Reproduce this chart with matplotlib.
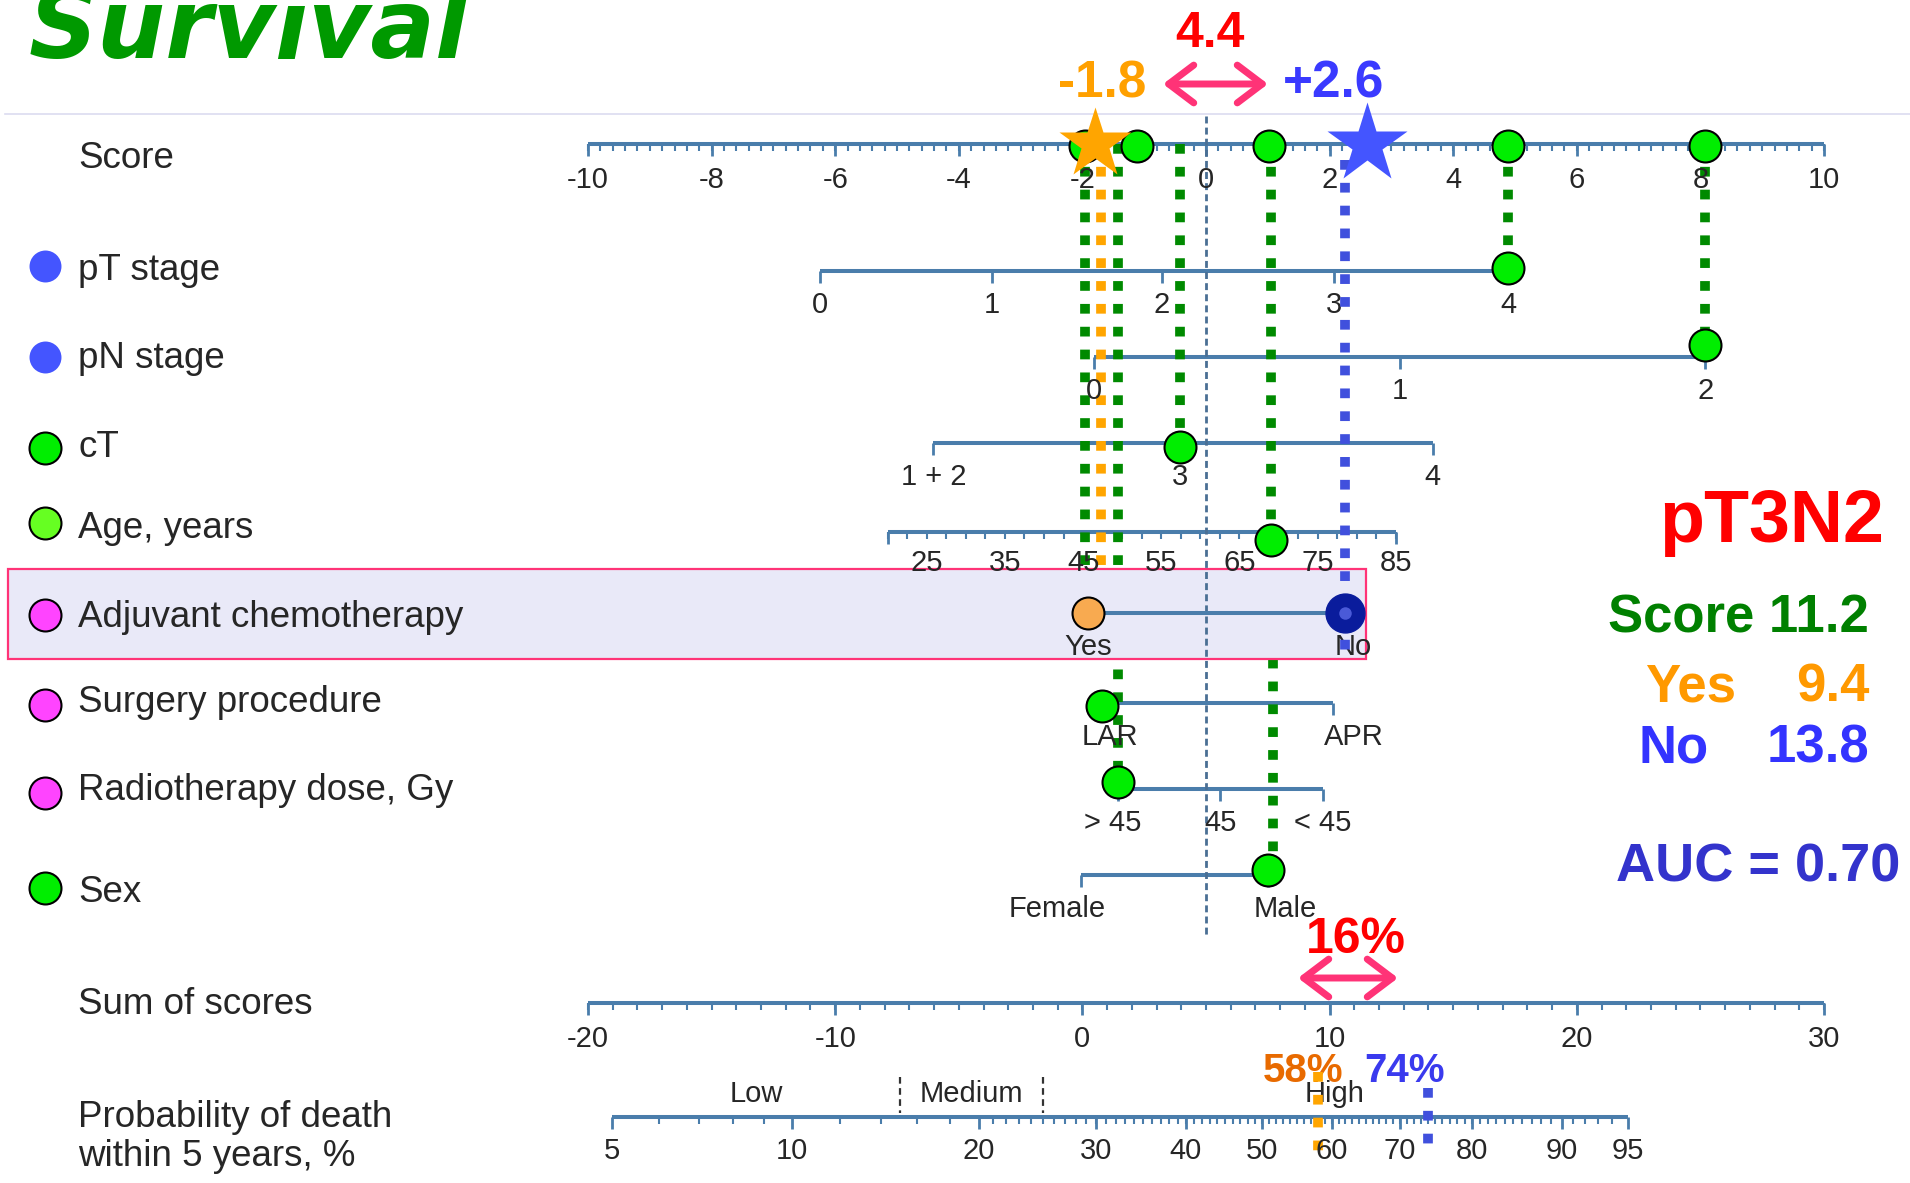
import numpy as np
import matplotlib
matplotlib.use("Agg")
import matplotlib.pyplot as plt
from matplotlib.patches import Rectangle
from matplotlib.transforms import offset_copy

# ---------------- nomogram scales (points per predictor level) ----------------
score_range = [-10, 10]
score_labels = [-10, -8, -6, -4, -2, 0, 2, 4, 6, 8, 10]

pt_levels = ["0", "1", "2", "3", "4"]
pt_points = [-6.24, -3.47, -0.71, 2.07, 4.89]
pn_levels = ["0", "1", "2"]
pn_points = [-1.81, 3.14, 8.08]
ct_levels = ["1 + 2", "3", "4"]
ct_points = [-4.41, -0.42, 3.67]
age_range = [20, 85]
age_points = [-5.15, 3.07]
age_labels = [25, 35, 45, 55, 65, 75, 85]
chemo_levels = ["Yes", "No"]
chemo_points = [-1.91, 2.25]
surgery_levels = ["LAR", "APR"]
surgery_points = [-1.68, 2.05]
radio_levels = ["> 45", "45", "< 45"]
radio_points = [-1.42, 0.23, 1.89]
sex_levels = ["Female", "Male"]
sex_points = [-2.02, 1.00]

sum_range = [-20, 30]
sum_labels = [-20, -10, 0, 10, 20, 30]
prob_labels = [5, 10, 20, 30, 40, 50, 60, 70, 80, 90, 95]
risk_cuts = [15, 25]
risk_groups = ["Low", "Medium", "High"]

# ---------------- patient profile (pT3N2) ----------------
patient_pt = "4"
patient_pn = "2"
patient_ct = "3"
patient_age = 69
patient_surgery = "LAR"
patient_radio = "> 45"
patient_sex = "Male"
score_marks = [-1.95, -1.12, 1.02, 4.89, 8.08]
chemo_yes_effect = -1.8
chemo_no_effect = 2.6
score_total = 11.2
total_yes = 9.4
total_no = 13.8
prob_yes = 58
prob_no = 74
auc = 0.70

# survival model link: sum of scores -> probability of death (complementary log-log)
S_MID, S_SLOPE = 10.97, 10.10


def prob_to_sum(p):
    p = np.asarray(p, dtype=float) / 100.0
    return S_MID + S_SLOPE * np.log(-np.log(1.0 - p))


# ---------------- figure / layout ----------------
plt.rcParams["font.family"] = ["Liberation Sans", "DejaVu Sans"]
W, H, DPI = 1910, 1183, 100
X0, PXU = 1206.0, 61.8          # pixel column of score 0, pixels per score point

fig = plt.figure(figsize=(W / DPI, H / DPI), dpi=DPI)
ax = fig.add_axes([0, 0, 1, 1])
ax.set_xlim(-X0 / PXU, (W - X0) / PXU)
ax.set_ylim(H, 0)
ax.axis("off")


def to_sum(s):
    return sum_range[0] + (s - score_range[0]) * (sum_range[1] - sum_range[0]) / (score_range[1] - score_range[0])


ax_sum = fig.add_axes([0, 0, 1, 1])
ax_sum.set_xlim(to_sum(ax.get_xlim()[0]), to_sum(ax.get_xlim()[1]))
ax_sum.set_ylim(H, 0)
ax_sum.axis("off")
ax_sum.patch.set_visible(False)


def px(x):
    return (x - X0) / PXU


AX_C = "#4a7dab"
TXT_C = "#262626"
GREEN_DOT = "#00ee00"
GUIDE_G = "#008a00"
GUIDE_O = "#ffa500"
GUIDE_B = "#4050dd"
TICK_FS = 21
LABEL_FS = 26.5

ROW_Y = {"score": 144, "pT": 271, "pN": 357, "cT": 443, "age": 532, "chemo": 613,
         "surgery": 703, "radio": 789, "sex": 875, "sum": 1003, "prob": 1117}
LABEL_DY = 34


def axis_row(a, y, lo, hi, major=(), minor=(), labels=(), nudges=None, z=3, dy=LABEL_DY):
    a.plot([lo, hi], [y, y], color=AX_C, lw=2.9, solid_capstyle="butt", zorder=z)
    if len(minor):
        a.vlines(minor, y, y + 7, color=AX_C, lw=1.5, zorder=z)
    if len(major):
        a.vlines(major, y, y + 12, color=AX_C, lw=2.0, zorder=z)
    nudges = nudges or {}
    for x, t in labels:
        tr = offset_copy(a.transData, fig=fig, x=nudges.get(t, 0), y=0, units="dots")
        a.text(x, y + dy, t, fontsize=TICK_FS, color=TXT_C, ha="center",
               va="center", transform=tr, zorder=6.2)


# title and separator
ax.text(px(29), 58, "Survival", fontsize=69, fontweight="bold", fontstyle="italic",
        color="#009900", family="DejaVu Sans", ha="left", va="baseline")
ax.plot([px(5), px(W)], [114, 114], color="#dcdcf0", lw=1.2, zorder=1)

# left-hand row labels with colour keys
row_labels = [("Score", 168, None, None),
              ("pT stage", 280, 266, ("#4455ff", "none")),
              ("pN stage", 368, 357, ("#4455ff", "none")),
              ("cT", 457, 448, (GREEN_DOT, "black")),
              ("Age, years", 538, 523, ("#66ff22", "black")),
              ("Adjuvant chemotherapy", 627, 615, ("#ff44ff", "black")),
              ("Surgery procedure", 712, 705, ("#ff44ff", "black")),
              ("Radiotherapy dose, Gy", 800, 793, ("#ff44ff", "black")),
              ("Sex", 902, 888, (GREEN_DOT, "black")),
              ("Sum of scores", 1014, None, None),
              ("Probability of death", 1127, None, None),
              ("within 5 years, %", 1166, None, None)]

# highlighted chemotherapy row
ax.add_patch(Rectangle((px(8), 569), px(1366) - px(8), 90, facecolor="#e9e9f8",
                       edgecolor="#ff3377", lw=1.6, zorder=5))

for text, yb, yd, dot in row_labels:
    ax.text(px(78), yb, text, fontsize=LABEL_FS, color=TXT_C, ha="left", va="baseline", zorder=6)
    if dot is not None:
        ax.plot(px(45), yd, "o", ms=23, mfc=dot[0], mec=dot[1], mew=1.5, zorder=6)

# score axis
score_minor = np.arange(score_range[0], score_range[1] + 0.001, 0.2)
axis_row(ax, ROW_Y["score"], score_range[0], score_range[1], major=score_labels,
         minor=score_minor, labels=[(v, f"{v}") for v in score_labels], dy=36)

# predictor axes
axis_row(ax, ROW_Y["pT"], pt_points[0], pt_points[-1], major=pt_points,
         labels=list(zip(pt_points, pt_levels)))
axis_row(ax, ROW_Y["pN"], pn_points[0], pn_points[-1], major=pn_points,
         labels=list(zip(pn_points, pn_levels)))
axis_row(ax, ROW_Y["cT"], ct_points[0], ct_points[-1], major=ct_points,
         labels=list(zip(ct_points, ct_levels)))
age_ticks = np.arange(age_range[0], age_range[1] + 0.01, 2.5)
age_x = np.interp(age_ticks, age_range, age_points)
age_lab_x = np.interp(age_labels, age_range, age_points)
axis_row(ax, ROW_Y["age"], age_points[0], age_points[-1], major=[age_points[0], age_points[-1]],
         minor=age_x, labels=[(x, str(v)) for x, v in zip(age_lab_x, age_labels)], dy=31)
axis_row(ax, ROW_Y["chemo"], chemo_points[0], chemo_points[-1],
         labels=list(zip(chemo_points, chemo_levels)), nudges={"No": 8}, z=6)
axis_row(ax, ROW_Y["surgery"], surgery_points[0], surgery_points[-1], major=surgery_points,
         labels=list(zip(surgery_points, surgery_levels)), nudges={"LAR": 8, "APR": 21})
axis_row(ax, ROW_Y["radio"], radio_points[0], radio_points[-1], major=radio_points,
         labels=list(zip(radio_points, radio_levels)), nudges={"> 45": -6})
axis_row(ax, ROW_Y["sex"], sex_points[0], sex_points[-1], major=sex_points,
         labels=list(zip(sex_points, sex_levels)), nudges={"Female": -24, "Male": 17})

# reference line at zero points
ax.plot([0, 0], [116, 938], color="#4a6f94", lw=2, ls=(0, (2.5, 1.5)), zorder=5.5)

# sum of scores and probability axes
sum_minor = np.arange(sum_range[0], sum_range[1] + 0.01, 1)
axis_row(ax_sum, ROW_Y["sum"], sum_range[0], sum_range[1], major=sum_labels,
         minor=sum_minor, labels=[(v, f"{v}") for v in sum_labels], dy=36)
prob_minor = list(range(6, 10)) + list(range(12, 20, 2)) + list(range(21, 90)) + list(range(91, 95))
axis_row(ax_sum, ROW_Y["prob"], prob_to_sum(prob_labels[0]), prob_to_sum(prob_labels[-1]),
         major=prob_to_sum(prob_labels), minor=prob_to_sum(prob_minor),
         labels=[(prob_to_sum(v), str(v)) for v in prob_labels])

cut_x = prob_to_sum(risk_cuts)
ax_sum.vlines(cut_x, 1077, 1113, color="#333333", lw=1.6, ls=(0, (3, 2)), zorder=4)
bounds = np.concatenate([[prob_to_sum(prob_labels[0])], cut_x, [prob_to_sum(prob_labels[-1])]])
for i, g in enumerate(risk_groups):
    ax_sum.text((bounds[i] + bounds[i + 1]) / 2, 1102, g, fontsize=TICK_FS, color=TXT_C,
                ha="center", va="baseline", zorder=4)

# ---------------- patient guide lines ----------------
DOT_LS = (0, (1, 1.35))
age_score = float(np.interp(patient_age, age_range, age_points))
pt_score = pt_points[pt_levels.index(patient_pt)]
pn_score = pn_points[pn_levels.index(patient_pn)]
ct_score = ct_points[ct_levels.index(patient_ct)]
surg_score = surgery_points[surgery_levels.index(patient_surgery)]
radio_score = radio_points[radio_levels.index(patient_radio)]
sex_score = sex_points[sex_levels.index(patient_sex)]

guides = [(score_marks[0], ROW_Y["score"], ROW_Y["chemo"], GUIDE_G, 4),
          (radio_score, ROW_Y["score"], 782, GUIDE_G, 4),
          (ct_score, ROW_Y["score"], 447, GUIDE_G, 4),
          (age_score, ROW_Y["score"], 540, GUIDE_G, 4),
          (sex_score + 0.08, ROW_Y["chemo"], 870, GUIDE_G, 4),
          (pt_score, ROW_Y["score"], 268, GUIDE_G, 4),
          (pn_score, ROW_Y["score"], 345, GUIDE_G, 4),
          (chemo_yes_effect + 0.1, ROW_Y["score"], ROW_Y["chemo"], GUIDE_O, 4),
          (chemo_points[1], ROW_Y["score"] + 16, 655, GUIDE_B, 6.5)]
for x, y0, y1, c, z in guides:
    ax.plot([x, x], [y0, y1], color=c, lw=7, ls=DOT_LS, dash_capstyle="butt", zorder=z)

# points on the score axis
for s in score_marks:
    ax.plot(s, ROW_Y["score"] + 2, "o", ms=23, mfc=GREEN_DOT, mec="black", mew=1.5, zorder=8)

# selected levels on predictor rows
row_marks = [(pt_score, 268), (pn_score, 345), (ct_score, 447), (age_score, 540),
             (surg_score, 706), (radio_score, 782), (sex_score, 870)]
for x, y in row_marks:
    ax.plot(x, y, "o", ms=23, mfc=GREEN_DOT, mec="black", mew=1.5, zorder=8)

ax.plot(chemo_points[0], ROW_Y["chemo"], "o", ms=23, mfc="#f8aa50", mec="black", mew=1.5, zorder=8)
ax.plot(chemo_points[1], ROW_Y["chemo"], "o", ms=28, mfc="#0a1c9c", mec="#0a1c9c", zorder=8)
ax.plot(chemo_points[1], ROW_Y["chemo"], "o", ms=9, mfc="#4a5ad8", mec="none", zorder=8.5)

# chemotherapy effect stars
ax.plot(chemo_yes_effect, ROW_Y["score"], "*", ms=54, color="#ffa500", mec="none", zorder=9)
ax.plot(chemo_no_effect, ROW_Y["score"], "*", ms=60, color="#4455ff", mec="none", zorder=9)

# effect annotations
ax.text(px(1102), 97, f"{chemo_yes_effect:.1f}", fontsize=37, fontweight="bold",
        color="#ffa000", ha="center", va="baseline")
ax.text(px(1334), 97, f"{chemo_no_effect:+.1f}", fontsize=37, fontweight="bold",
        color="#3a3aff", ha="center", va="baseline")
ax.text(px(1210), 47, f"{chemo_no_effect - chemo_yes_effect:.1f}", fontsize=36,
        fontweight="bold", color="#ff0000", ha="center", va="baseline")
arrow_kw = dict(arrowstyle="<->,head_length=0.45,head_width=0.34", lw=5, color="#ff3377",
                mutation_scale=40, shrinkA=0, shrinkB=0, capstyle="round", joinstyle="round")
ax.annotate("", xy=(px(1268), 84), xytext=(px(1163), 84), arrowprops=arrow_kw)

# probability markers
ax_sum.plot([prob_to_sum(prob_yes)] * 2, [1072, 1157], color=GUIDE_O, lw=7, ls=DOT_LS,
            dash_capstyle="butt", zorder=5)
ax_sum.plot([prob_to_sum(prob_no)] * 2, [1088, 1145], color=GUIDE_B, lw=7, ls=DOT_LS,
            dash_capstyle="butt", zorder=5)
ax.text(px(1303), 1082, f"{prob_yes}%", fontsize=29, fontweight="bold", color="#e86a00",
        ha="center", va="baseline", zorder=6)
ax.text(px(1405), 1082, f"{prob_no}%", fontsize=29, fontweight="bold", color="#3a3aee",
        ha="center", va="baseline", zorder=6)
ax.text(px(1356), 953, f"{prob_no - prob_yes}%", fontsize=36, fontweight="bold",
        color="#ff0000", ha="center", va="baseline")
ax.annotate("", xy=(px(1398), 978), xytext=(px(1298), 978), arrowprops=arrow_kw)

# patient summary
ax.text(px(1772), 542, "pT3N2", fontsize=53, fontweight="bold", color="#ff0000",
        ha="center", va="baseline")
ax.text(px(1869), 632, f"Score {score_total:.1f}", fontsize=38, fontweight="bold",
        color="#008000", ha="right", va="baseline")
ax.text(px(1645), 701, "Yes", fontsize=38, fontweight="bold", color="#ff9900",
        ha="left", va="baseline")
ax.text(px(1869), 701, f"{total_yes:.1f}", fontsize=38, fontweight="bold", color="#ff9900",
        ha="right", va="baseline")
ax.text(px(1639), 762, "No", fontsize=38, fontweight="bold", color="#3333ff",
        ha="left", va="baseline")
ax.text(px(1869), 762, f"{total_no:.1f}", fontsize=38, fontweight="bold", color="#3333ff",
        ha="right", va="baseline")
ax.text(px(1900), 881, f"AUC = {auc:.2f}", fontsize=39, fontweight="bold", color="#3333cc",
        ha="right", va="baseline")

fig.savefig("out.png", dpi=DPI)
